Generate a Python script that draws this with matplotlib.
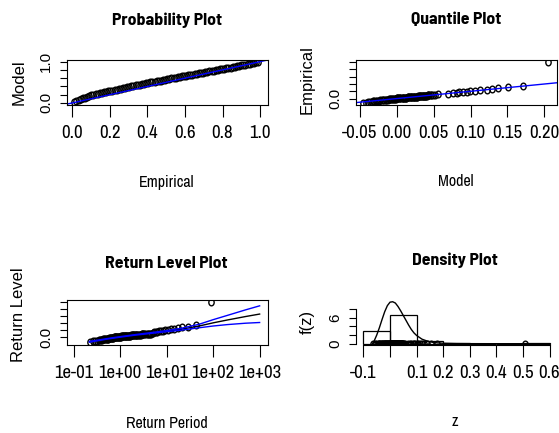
import matplotlib
matplotlib.use("Agg")
import matplotlib.pyplot as plt
from matplotlib.path import Path
from matplotlib.transforms import Affine2D

# sorted sample (empirical quantiles)
z_sorted = [-0.065, -0.058, -0.052, -0.047, -0.043, -0.040, -0.037, -0.034, -0.031, -0.029,
            -0.026, -0.024, -0.022, -0.020, -0.018, -0.016, -0.014, -0.012, -0.010, -0.008,
            -0.006, -0.005, -0.003, -0.001,
            0.001, 0.002, 0.002, 0.003, 0.005, 0.006, 0.006, 0.008, 0.009, 0.010,
            0.011, 0.011, 0.013, 0.014, 0.015, 0.016, 0.018, 0.018, 0.019, 0.021,
            0.021, 0.022, 0.024, 0.024, 0.025, 0.027, 0.027, 0.028, 0.030, 0.030,
            0.031, 0.033, 0.033, 0.034, 0.036, 0.037, 0.037, 0.038, 0.040, 0.041,
            0.042, 0.043, 0.044, 0.045, 0.046, 0.047, 0.049,
            0.052, 0.057, 0.068, 0.075, 0.080, 0.086, 0.090, 0.095, 0.101, 0.107,
            0.114, 0.120, 0.128, 0.140, 0.153, 0.176, 0.506]

# model quantiles
q_model = [-0.045, -0.042, -0.039, -0.036, -0.034, -0.032, -0.030, -0.028, -0.026, -0.024,
           -0.022, -0.020, -0.019, -0.017, -0.015, -0.014, -0.012, -0.011, -0.009, -0.008,
           -0.006, -0.005, -0.003, -0.002,
           -0.001, 0.000, 0.001, 0.002, 0.003, 0.004, 0.005, 0.007, 0.008, 0.009,
           0.010, 0.011, 0.012, 0.013, 0.015, 0.016, 0.017, 0.018, 0.019, 0.020,
           0.021, 0.022, 0.023, 0.024, 0.025, 0.026, 0.027, 0.028, 0.029, 0.030,
           0.031, 0.032, 0.033, 0.034, 0.035, 0.036, 0.037, 0.038, 0.039, 0.040,
           0.041, 0.042, 0.043, 0.044, 0.046, 0.047, 0.049,
           0.052, 0.056, 0.070, 0.076, 0.081, 0.085, 0.090, 0.095, 0.099, 0.106,
           0.113, 0.122, 0.129, 0.137, 0.151, 0.171, 0.205]

# empirical / model probabilities
p_empirical = [0.011, 0.022, 0.034, 0.045, 0.056, 0.067, 0.079, 0.090, 0.101, 0.112,
               0.124, 0.135, 0.146, 0.157, 0.169, 0.180, 0.191, 0.202, 0.213, 0.225,
               0.236, 0.247, 0.258, 0.270, 0.281, 0.292, 0.303, 0.315, 0.326, 0.337,
               0.348, 0.360, 0.371, 0.382, 0.393, 0.404, 0.416, 0.427, 0.438, 0.449,
               0.461, 0.472, 0.483, 0.494, 0.506, 0.517, 0.528, 0.539, 0.551, 0.562,
               0.573, 0.584, 0.596, 0.607, 0.618, 0.629, 0.640, 0.652, 0.663, 0.674,
               0.685, 0.697, 0.708, 0.719, 0.730, 0.742, 0.753, 0.764, 0.775, 0.787,
               0.798, 0.809, 0.820, 0.831, 0.843, 0.854, 0.865, 0.876, 0.888, 0.899,
               0.910, 0.921, 0.933, 0.944, 0.955, 0.966, 0.978, 0.989]
p_model = [0.012, 0.045, 0.071, 0.092, 0.118, 0.130, 0.152, 0.161, 0.184, 0.190,
           0.211, 0.218, 0.233, 0.250, 0.256, 0.272, 0.279, 0.295, 0.301, 0.318,
           0.324, 0.339, 0.347, 0.362, 0.368, 0.384, 0.391, 0.407, 0.410, 0.424,
           0.431, 0.446, 0.455, 0.463, 0.475, 0.482, 0.497, 0.506, 0.512, 0.525,
           0.535, 0.543, 0.552, 0.565, 0.574, 0.583, 0.592, 0.605, 0.611, 0.623,
           0.632, 0.641, 0.649, 0.658, 0.667, 0.680, 0.686, 0.696, 0.707, 0.715,
           0.724, 0.736, 0.744, 0.753, 0.764, 0.771, 0.782, 0.795, 0.801, 0.811,
           0.818, 0.830, 0.839, 0.852, 0.857, 0.870, 0.879, 0.887, 0.897, 0.910,
           0.919, 0.930, 0.938, 0.950, 0.958, 0.970, 0.980, 0.990]

# return period of each sorted observation
return_period = [0.223, 0.264, 0.295, 0.322, 0.347, 0.371, 0.393, 0.415, 0.436, 0.458,
                 0.478, 0.499, 0.520, 0.541, 0.562, 0.583, 0.604, 0.626, 0.648, 0.670,
                 0.693, 0.716, 0.739, 0.763, 0.787, 0.813, 0.839, 0.865, 0.892, 0.920,
                 0.948, 0.978, 1.008, 1.039, 1.072, 1.105, 1.139, 1.175, 1.212, 1.250,
                 1.290, 1.332, 1.375, 1.420, 1.466, 1.515, 1.566, 1.620, 1.676, 1.734,
                 1.796, 1.861, 1.930, 2.002, 2.078, 2.159, 2.244, 2.335, 2.432, 2.535,
                 2.646, 2.765, 2.894, 3.033, 3.183, 3.347, 3.525, 3.720, 3.935, 4.171,
                 4.434, 4.726, 5.054, 5.425, 5.849, 6.337, 6.904, 7.573, 8.373, 9.347,
                 10.61, 12.20, 14.33, 17.29, 21.77, 29.17, 43.95, 88.5]

# fitted return level curve and confidence band
rl_period = [0.22, 0.3, 0.5, 0.7, 1, 2, 3, 5, 10, 20, 50, 100, 200, 500, 1000]
rl_fit = [-0.064, -0.050, -0.025, -0.010, 0.005, 0.032, 0.046, 0.063, 0.087,
          0.113, 0.160, 0.205, 0.245, 0.295, 0.330]
rl_upper = [-0.058, -0.045, -0.021, -0.006, 0.009, 0.036, 0.051, 0.069, 0.095,
            0.126, 0.185, 0.250, 0.310, 0.390, 0.447]
rl_lower = [-0.070, -0.055, -0.029, -0.014, 0.001, 0.028, 0.041, 0.057, 0.079,
            0.100, 0.135, 0.160, 0.180, 0.200, 0.210]

# histogram + fitted density
hist_left = [-0.1, 0.0, 0.1, 0.2, 0.3, 0.4, 0.5]
hist_density = [2.85, 6.65, 0.55, 0.10, 0.0, 0.0, 0.10]
dens_x = [-0.066, -0.06, -0.05, -0.04, -0.03, -0.02, -0.01, 0.0, 0.01, 0.02, 0.03, 0.04,
          0.05, 0.06, 0.07, 0.08, 0.09, 0.10, 0.12, 0.14, 0.16, 0.18, 0.20, 0.25, 0.30,
          0.40, 0.50, 0.60]
dens_y = [0.0, 0.6, 2.0, 3.7, 5.6, 7.4, 8.8, 9.6, 9.7, 9.4, 8.6, 7.6,
          6.5, 5.4, 4.3, 3.3, 2.5, 1.9, 1.05, 0.6, 0.33, 0.18, 0.10, 0.03, 0.01,
          0.0, 0.0, 0.0]

narrow = ['Archivo Narrow', 'Liberation Sans']
narrow_bold = ['Barlow Semi Condensed', 'Barlow Condensed', 'Liberation Sans']
plain = ['Liberation Sans', 'DejaVu Sans']

W, H = 559, 433


def fx(px):
    return px / W


def fy(py):
    return 1 - py / H


def box(x0, y0, x1, y1):
    return [fx(x0), fy(y1), (x1 - x0) / W, (y1 - y0) / H]


ring = Path.unit_circle().transformed(Affine2D().scale(0.8, 1.0))
pt = dict(marker=ring, ms=4.8, mfc='none', mec='black', mew=1.0, ls='none')


def ticks(ax, xt, xl, yt, yl):
    ax.set_xticks(xt)
    ax.set_xticklabels(xl, fontsize=13.5, family=narrow)
    ax.set_yticks(yt)
    ax.set_yticklabels(yl, fontsize=11, family=plain, rotation=90, va='center')
    ax.tick_params(axis='x', length=8.6, width=0.8, pad=6)
    ax.tick_params(axis='y', length=5, width=0.8, pad=5)
    ax.minorticks_off()
    for s in ax.spines.values():
        s.set_linewidth(0.8)


fig = plt.figure(figsize=(W / 100, H / 100), dpi=100)

# probability plot
ax1 = fig.add_axes(box(67, 60, 268, 105))
ax1.plot(p_empirical, p_model, **pt)
ax1.plot([-0.1, 1.1], [-0.1, 1.1], color='blue', lw=1)
ax1.set_xlim(-0.028, 1.042)
ax1.set_ylim(-0.05, 1.04)
ticks(ax1, [0, 0.2, 0.4, 0.6, 0.8, 1.0], ['0.0', '0.2', '0.4', '0.6', '0.8', '1.0'],
      [0, 0.2, 0.4, 0.6, 0.8, 1.0], ['0.0', '', '', '', '', '1.0'])

# quantile plot
ax2 = fig.add_axes(box(356, 60, 557, 105))
ax2.plot(q_model, z_sorted, **pt)
ax2.plot([-0.1, 0.6], [-0.1, 0.6], color='blue', lw=1)
ax2.set_xlim(-0.055, 0.217)
ax2.set_ylim(-0.088, 0.529)
ticks(ax2, [-0.05, 0, 0.05, 0.1, 0.15, 0.2], ['-0.05', '0.00', '0.05', '0.10', '0.15', '0.20'],
      [0, 0.1, 0.2, 0.3, 0.4, 0.5], ['0.0', '', '', '', '', ''])

# return level plot
ax3 = fig.add_axes(box(67, 300, 268, 345))
ax3.set_xscale('log')
ax3.plot(return_period, z_sorted, **pt)
ax3.plot(rl_period, rl_fit, color='black', lw=1)
ax3.plot(rl_period, rl_upper, color='blue', lw=1)
ax3.plot(rl_period, rl_lower, color='blue', lw=1)
ax3.set_xlim(10 ** -1.14, 10 ** 3.18)
ax3.set_ylim(-0.110, 0.530)
ticks(ax3, [0.1, 1, 10, 100, 1000], ['1e-01', '1e+00', '1e+01', '1e+02', '1e+03'],
      [0, 0.1, 0.2, 0.3, 0.4, 0.5], ['0.0', '', '', '', '', ''])

# density plot
ax4 = fig.add_axes(box(356, 300, 557, 345))
ax4.bar(hist_left, hist_density, width=0.1, align='edge', fill=False,
        edgecolor='black', lw=0.9)
ax4.plot(dens_x, dens_y, color='black', lw=1)
ax4.plot(z_sorted, [0] * len(z_sorted), **pt)
ax4.set_xlim(-0.128, 0.628)
ax4.set_ylim(-0.3, 10.1)
ticks(ax4, [-0.1, 0, 0.1, 0.2, 0.3, 0.4, 0.5, 0.6],
      ['-0.1', '', '0.1', '0.2', '0.3', '0.4', '0.5', '0.6'],
      [0, 2, 4, 6, 8], ['0', '', '', '6', ''])
ax4.spines['top'].set_visible(False)
ax4.spines['right'].set_visible(False)
ax4.spines['bottom'].set_bounds(-0.1, 0.6)
ax4.spines['left'].set_bounds(0, 8)

# titles and axis labels
for x, y, t in [(167, 20, 'Probability Plot'), (456, 20, 'Quantile Plot'),
                (166, 263, 'Return Level Plot'), (455, 260, 'Density Plot')]:
    fig.text(fx(x), fy(y), t, ha='center', va='center', fontsize=12.8,
             fontweight='bold', family=narrow_bold)
for x, y, t in [(167, 182, 'Empirical'), (456, 181, 'Model'),
                (167, 423, 'Return Period'), (455, 422, 'z')]:
    fig.text(fx(x), fy(y), t, ha='center', va='center', fontsize=11.5, family=narrow)
for x, y, t in [(19, 82, 'Model'), (307, 80, 'Empirical'),
                (19, 315, 'Return Level'), (307, 322, 'f(z)')]:
    fig.text(fx(x), fy(y), t, ha='center', va='center', fontsize=12,
             family=plain, rotation=90)

fig.savefig('out.png', dpi=100)
